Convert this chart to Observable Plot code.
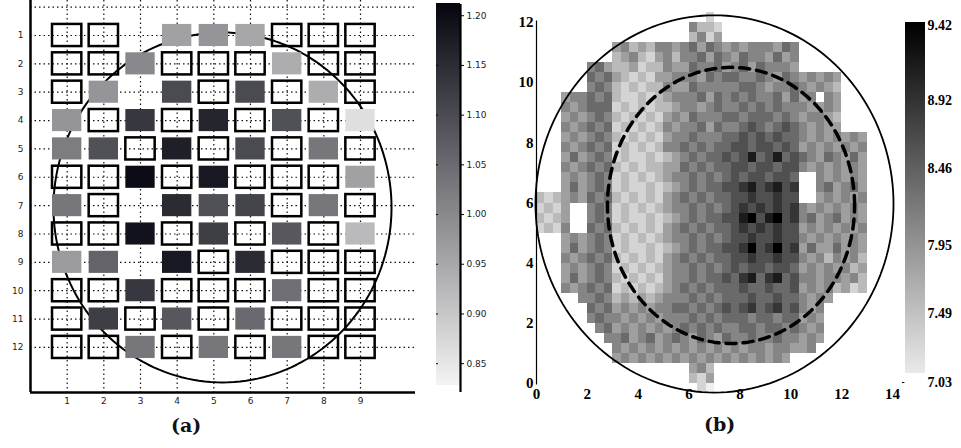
<!DOCTYPE html>
<html><head><meta charset="utf-8">
<script src="https://cdn.jsdelivr.net/npm/d3@7"></script>
<script src="https://cdn.jsdelivr.net/npm/@observablehq/plot@0.6"></script>
<style>
body{margin:0;background:#fff;}
#wrap{position:relative;width:961px;height:448px;overflow:hidden;background:#fff;}
#wrap svg{position:absolute;left:0;top:0;}
.cap{position:absolute;font-family:"DejaVu Serif",serif;font-weight:bold;font-size:19px;color:#111;}
</style></head><body>
<div id="wrap"></div>
<script>
// ---------- panel (a) data ----------
const colsA = [1,2,3,4,5,6,7,8,9];
const rowsA = [1,2,3,4,5,6,7,8,9,10,11,12];
// W = empty measured box, E = no box, number = measured value
const gridRowsA = [
  "W W E 0.96 0.98 0.95 W W W",
  "W W 1.00 W W W 0.94 W W",
  "W 0.98 E 1.10 W 1.10 W 0.94 W",
  "0.98 W 1.13 W 1.16 W 1.09 W 0.86",
  "1.02 1.09 W 1.17 W 1.10 W 1.03 W",
  "W W 1.20 W 1.18 W W W 0.96",
  "1.03 W E 1.15 1.09 1.11 W 1.03 W",
  "W W 1.19 W 1.12 W 1.08 W 0.92",
  "0.97 1.06 E 1.18 W 1.15 W W W",
  "W W 1.13 W W W 1.04 W W",
  "W 1.12 W 1.08 W 1.05 W W W",
  "W W 1.03 W 1.03 W 1.03 W W"
];
const cbTicksA = [0.85,0.9,0.95,1,1.05,1.1,1.15,1.2];
const cbDomainA = [0.828, 1.2113];
const circleCenterA = [5.236, 7.065];
const circleRadiusA = [4.61, 6.17];

// ---------- panel (b) data ----------
const xTicksB = [0,2,4,6,8,10,12,14];
const yTicksB = [0,2,4,6,8,10,12];
const cbTicksB = [7.03,7.49,7.95,8.46,8.92,9.42];
const levelRangeB = [7.03, 9.42];   // code 0 .. code 9
// rows of 1/3-unit sites, from top row (j=36) to bottom row (j=-1): [first column index, codes]
const rowsB = [
  [20,"1"],
  [18,"4221"],
  [18,"2413"],
  [9,"34232443"+"453543"+"43444354"],
  [9,"23421342"+"445354"+"35443534"],
  [6,"453"+"22312243"+"354453"+"45354443"],
  [6,"545"+"32121334"+"443545"+"54454354"+"34343"],
  [6,"454"+"21212243"+"354444"+"45543445"+"43432"],
  [3,"344"+"545"+"21121234"+"445354"+"54544535"+"34.43"],
  [3,"434"+"555"+"12121223"+"443454"+"45454544"+"43343"],
  [3,"343"+"454"+"21212134"+"354445"+"54555454"+"34432"],
  [3,"434"+"545"+"12121243"+"445354"+"45654565"+"43433"],
  [3,"343"+"454"+"21212134"+"454445"+"56565655"+"43434343"],
  [3,"434"+"545"+"12121244"+"545455"+"66566565"+"34343434"],
  [3,"353"+"454"+"12112123"+"454556"+"56856856"+"54354353"],
  [3,"434"+"545"+"21212233"+"545455"+"66566566"+"43434343"],
  [3,"343"+"454"+"12121234"+"454545"+"65665665"+"..434343"],
  [3,"353"+"454"+"12112123"+"454556"+"67867867"+"..453453"],
  [0,"212"+"343"+"545"+"21212134"+"545455"+"66766766"+"..343434"],
  [0,"121"+"3.."+"454"+"12121234"+"454545"+"67676767"+"43434343"],
  [0,"212"+"3.."+"454"+"12112123"+"454556"+"68968967"+"45345343"],
  [0,"121"+"4.."+"545"+"21212134"+"545455"+"67676766"+"34343434"],
  [3,"343"+"454"+"12121234"+"454545"+"66766766"+"43434343"],
  [3,"353"+"454"+"12112123"+"454556"+"67967967"+"35335343"],
  [3,"434"+"545"+"21212134"+"545455"+"66766766"+"43424342"],
  [3,"343"+"454"+"12121234"+"454545"+"65665665"+"34343423"],
  [3,"353"+"454"+"21212134"+"454556"+"57857856"+"44344342"],
  [3,"434"+"545"+"12121234"+"545455"+"56556556"+"34342312"],
  [5,"4"+"454"+"23232344"+"454545"+"55655655"+"4343"],
  [6,"545"+"34343445"+"545456"+"56756756"+"434"],
  [6,"454"+"43434344"+"454545"+"55455455"+"343"],
  [7,"45"+"34343434"+"545454"+"45545545"+"434"],
  [8,"4"+"45345345"+"435435"+"44544544"+"343"],
  [9,"43434343"+"434343"+"43443443"+"34"],
  [9,"34343434"+"343434"+"3434343"],
  [18,"342"],
  [18,"213"],
  [19,"10"]
];
const topRowB = 36;
const siteB = 1/3;
const waferCenterB = [7.0, 5.97], waferRadiusB = [7.04, 6.27];
const innerCenterB = [7.65, 5.92], innerRadiusB = [4.86, 4.59];

// ---------- helpers ----------
function ellipse([cx, cy], [rx, ry]) {
  return d3.range(0, 361, 2).map(a => [cx + rx * Math.cos(a * Math.PI / 180), cy + ry * Math.sin(a * Math.PI / 180)]);
}

const cellsA = gridRowsA.flatMap((s, r) => s.trim().split(/\s+/).map((t, c) => ({col: colsA[c], row: rowsA[r], t})));
const whiteA = cellsA.filter(d => d.t === "W");
const grayA = cellsA.filter(d => d.t !== "W" && d.t !== "E").map(d => ({...d, v: +d.t}));

const cellsB = rowsB.flatMap(([start, s], k) => [...s].map((ch, n) => ({i: start + n, j: topRowB - k, ch})))
  .filter(d => d.ch !== ".")
  .map(d => ({...d, v: levelRangeB[0] + (+d.ch) * (levelRangeB[1] - levelRangeB[0]) / 9}));

const colorA = {type: "linear", domain: cbDomainA, range: ["#f3f3f3", "#05050f"]};
const colorB = {type: "linear", domain: levelRangeB, range: ["#efefef", "#000000"]};
const hw = 0.4, hh = 0.39;
const dotted = {stroke: "#111", strokeWidth: 1.2, strokeDasharray: "1.5,3"};
const wrap = document.getElementById("wrap");

// ---------- panel (a) ----------
wrap.append(Plot.plot({
  width: 961, height: 448, marginLeft: 30, marginRight: 546, marginTop: 0, marginBottom: 56,
  style: {background: "transparent", fontFamily: "'DejaVu Sans', sans-serif", fontSize: "9px", color: "#222"},
  x: {domain: [0, 10.5]},
  y: {domain: [-0.234, 13.59], reverse: true},
  color: colorA,
  marks: [
    Plot.ruleX(colsA, dotted),
    Plot.ruleY([0, ...rowsA], dotted),
    Plot.line(ellipse(circleCenterA, circleRadiusA), {stroke: "#000", strokeWidth: 2}),
    Plot.rect(grayA, {x1: d => d.col - hw, x2: d => d.col + hw, y1: d => d.row - hh, y2: d => d.row + hh, fill: "v"}),
    Plot.rect(whiteA, {x1: d => d.col - hw, x2: d => d.col + hw, y1: d => d.row - hh, y2: d => d.row + hh, fill: "none", stroke: "#000", strokeWidth: 2.5}),
    Plot.ruleX([0], {stroke: "#000", strokeWidth: 2.5}),
    Plot.ruleY([13.59], {stroke: "#000", strokeWidth: 2.5}),
    Plot.axisX({ticks: colsA, tickSize: 0, tickPadding: 5, fontSize: 9, fill: "#222"}),
    Plot.axisY({ticks: rowsA, tickSize: 0, tickPadding: 7, fontSize: 9, fill: "#222"})
  ]
}));

// ---------- colorbar (a) ----------
wrap.append(Plot.plot({
  width: 961, height: 448, marginLeft: 436, marginRight: 501, marginTop: 4, marginBottom: 56,
  style: {background: "transparent", fontFamily: "'DejaVu Sans', sans-serif", fontSize: "9px"},
  x: {domain: [0, 1], axis: null},
  y: {domain: [0.821, 1.2113]},
  color: colorA,
  marks: [
    Plot.rect(d3.range(cbDomainA[0], cbDomainA[1], 0.002), {x1: 0, x2: 1, y1: d => d, y2: d => d + 0.0025, fill: d => d, shapeRendering: "crispEdges"}),
    Plot.ruleY(cbTicksA, {x1: 0, x2: 0.08, stroke: "#000"}),
    Plot.ruleX([1], {stroke: "#000", strokeWidth: 2.2}),
    Plot.axisY({anchor: "right", ticks: cbTicksA, tickSize: 3, tickPadding: 3, fontSize: 9, fill: "#222"})
  ]
}));

// ---------- panel (b) ----------
wrap.append(Plot.plot({
  width: 961, height: 448, marginLeft: 536, marginRight: 69, marginTop: 22, marginBottom: 65,
  style: {background: "transparent", fontFamily: "'Liberation Serif', serif", fontSize: "15px", fontWeight: "bold"},
  x: {domain: [0, 14]},
  y: {domain: [0, 12]},
  color: colorB,
  marks: [
    Plot.rect(cellsB, {x1: d => d.i * siteB, x2: d => (d.i + 1) * siteB, y1: d => d.j * siteB, y2: d => (d.j + 1) * siteB, fill: "v", shapeRendering: "crispEdges"}),
    Plot.line(ellipse(waferCenterB, waferRadiusB), {stroke: "#000", strokeWidth: 1.8}),
    Plot.line(ellipse(innerCenterB, innerRadiusB), {stroke: "#000", strokeWidth: 3.5, strokeDasharray: "10,7"}),
    Plot.ruleX([0], {y1: -0.05, y2: 12.05, stroke: "#000", strokeWidth: 1.2}),
    Plot.axisY({ticks: yTicksB, tickSize: 0, tickPadding: 3, fontSize: 15, fontWeight: "bold", fill: "#000"}),
    Plot.axisX({ticks: xTicksB, tickSize: 0, tickPadding: 5, fontSize: 15, fontWeight: "bold", fill: "#000"})
  ]
}));

// ---------- colorbar (b) ----------
wrap.append(Plot.plot({
  width: 961, height: 448, marginLeft: 905, marginRight: 36, marginTop: 25, marginBottom: 66,
  style: {background: "transparent", fontFamily: "'Liberation Serif', serif", fontSize: "14px", fontWeight: "bold"},
  x: {domain: [0, 1], axis: null},
  y: {domain: levelRangeB},
  color: colorB,
  marks: [
    Plot.rect(d3.range(7.09, 9.44, 0.01), {x1: 0, x2: 1, y1: d => d, y2: d => d + 0.012, fill: d => d, shapeRendering: "crispEdges"}),
    Plot.ruleY([7.03], {x1: -0.15, x2: -0.03, stroke: "#000"}),
    Plot.axisY({anchor: "right", ticks: cbTicksB, tickFormat: d => d.toFixed(2), tickSize: 0, tickPadding: 2, fontSize: 14, fontWeight: "bold", fill: "#000"})
  ]
}));

// ---------- captions ----------
const capA = document.createElement("div");
capA.className = "cap"; capA.textContent = "(a)";
capA.style.left = "171px"; capA.style.top = "414px";
wrap.append(capA);
const capB = document.createElement("div");
capB.className = "cap"; capB.textContent = "(b)";
capB.style.left = "704px"; capB.style.top = "413px";
wrap.append(capB);
</script>
</body></html>
